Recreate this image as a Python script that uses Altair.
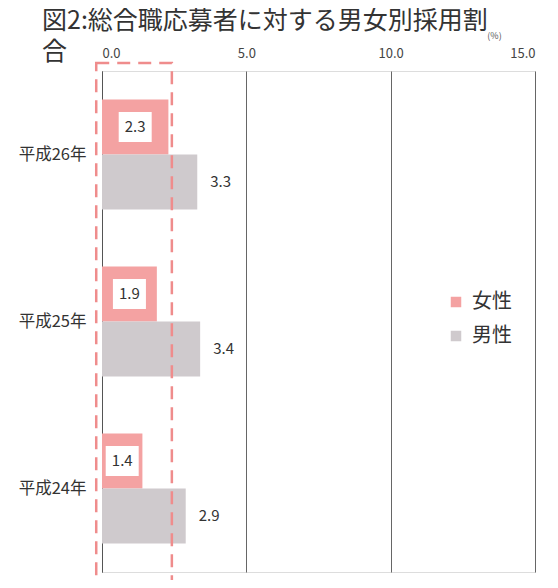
import altair as alt
import pandas as pd

years = ["平成26年", "平成25年", "平成24年"]
female = [2.3, 1.9, 1.4]
male = [3.3, 3.4, 2.9]
sexes = ["女性", "男性"]
x_ticks = [0, 5, 10, 15]
title_lines = ["図2:総合職応募者に対する男女別採用割", "合"]

rows = []
for y, f, m in zip(years, female, male):
    rows.append({"year": y, "sex": "女性", "value": f})
    rows.append({"year": y, "sex": "男性", "value": m})
df = pd.DataFrame(rows)

box_df = pd.DataFrame({"x0": [-0.2], "x1": [2.42]})

JP = "Noto Sans CJK JP"
colors = ["#f4a2a2", "#cfcacd"]

y_enc = alt.Y("year:N", sort=years,
              scale=alt.Scale(paddingInner=0.34, paddingOuter=0.17),
              axis=alt.Axis(title=None, ticks=False, domain=True, domainColor="#555",
                            labelFontSize=16.5, labelColor="#333", labelFont=JP,
                            labelPadding=16, grid=False))
yoff = alt.YOffset("sex:N", sort=sexes, scale=alt.Scale(paddingInner=0, paddingOuter=0))

x_scale = alt.Scale(domain=[0, 15], nice=False)

bars = alt.Chart(df).mark_bar().encode(
    x=alt.X("value:Q", scale=x_scale,
            axis=alt.Axis(orient="top", values=x_ticks, format=".1f", grid=True,
                          gridColor="#666", gridWidth=1, tickSize=0, domain=False,
                          labelFontSize=13, labelColor="#444", labelFont=JP,
                          labelPadding=11, title="(%)", titleFontSize=9,
                          titleFontWeight="normal", titleColor="#555", titleFont=JP,
                          titleX=392, titleY=-31, titleAngle=0)),
    y=y_enc,
    yOffset=yoff,
    color=alt.Color("sex:N", sort=sexes,
                    scale=alt.Scale(domain=sexes, range=colors),
                    legend=alt.Legend(title=None, orient="none", legendX=344, legendY=221,
                                      symbolType="square", symbolSize=110,
                                      symbolStrokeWidth=0,
                                      labelFontSize=20, labelFont=JP, labelColor="#333",
                                      rowPadding=14, labelOffset=6)),
)

fem = df[df["sex"] == "女性"]
mal = df[df["sex"] == "男性"]

boxes = alt.Chart(fem).transform_calculate(mid="datum.value / 2").mark_point(
    shape="M-1.1,-1H1.1V1H-1.1Z", filled=True, color="white", opacity=1, size=900
).encode(x=alt.X("mid:Q", scale=x_scale), y=y_enc, yOffset=yoff)

fem_text = alt.Chart(fem).transform_calculate(mid="datum.value / 2").mark_text(
    fontSize=15, font=JP, color="#333", baseline="middle", align="center"
).encode(x=alt.X("mid:Q", scale=x_scale), y=y_enc, yOffset=yoff,
         text=alt.Text("value:Q", format=".1f"))

mal_text = alt.Chart(mal).mark_text(
    fontSize=15, font=JP, color="#333", baseline="middle", align="left", dx=13
).encode(x=alt.X("value:Q", scale=x_scale), y=y_enc, yOffset=yoff,
         text=alt.Text("value:Q", format=".1f"))

dash_box = alt.Chart(box_df).mark_rect(
    fill=None, stroke="#ef8c8c", strokeWidth=2.5, strokeDash=[13, 8], clip=False
).encode(x=alt.X("x0:Q", scale=x_scale), x2="x1:Q",
         y=alt.value(-8), y2=alt.value(540))

title1 = alt.Chart(pd.DataFrame({"t": [title_lines[0]]})).mark_text(
    fontSize=25, font=JP, color="#333", align="left", baseline="alphabetic"
).encode(text="t:N", x=alt.value(-60), y=alt.value(-42))

title2 = alt.Chart(pd.DataFrame({"t": [title_lines[1]]})).mark_text(
    fontSize=25, font=JP, color="#333", align="left", baseline="alphabetic"
).encode(text="t:N", x=alt.value(-60), y=alt.value(-11))

chart = alt.layer(bars, boxes, fem_text, mal_text, dash_box, title1, title2).properties(
    width=433, height=501,
    autosize=alt.AutoSizeParams(type="none"),
    padding={"left": 94, "top": 63, "right": 15, "bottom": 8},
).configure_view(stroke="#888", strokeWidth=1).configure(background="white")

chart.save("out.html", embed_options={"renderer": "svg", "actions": False})
